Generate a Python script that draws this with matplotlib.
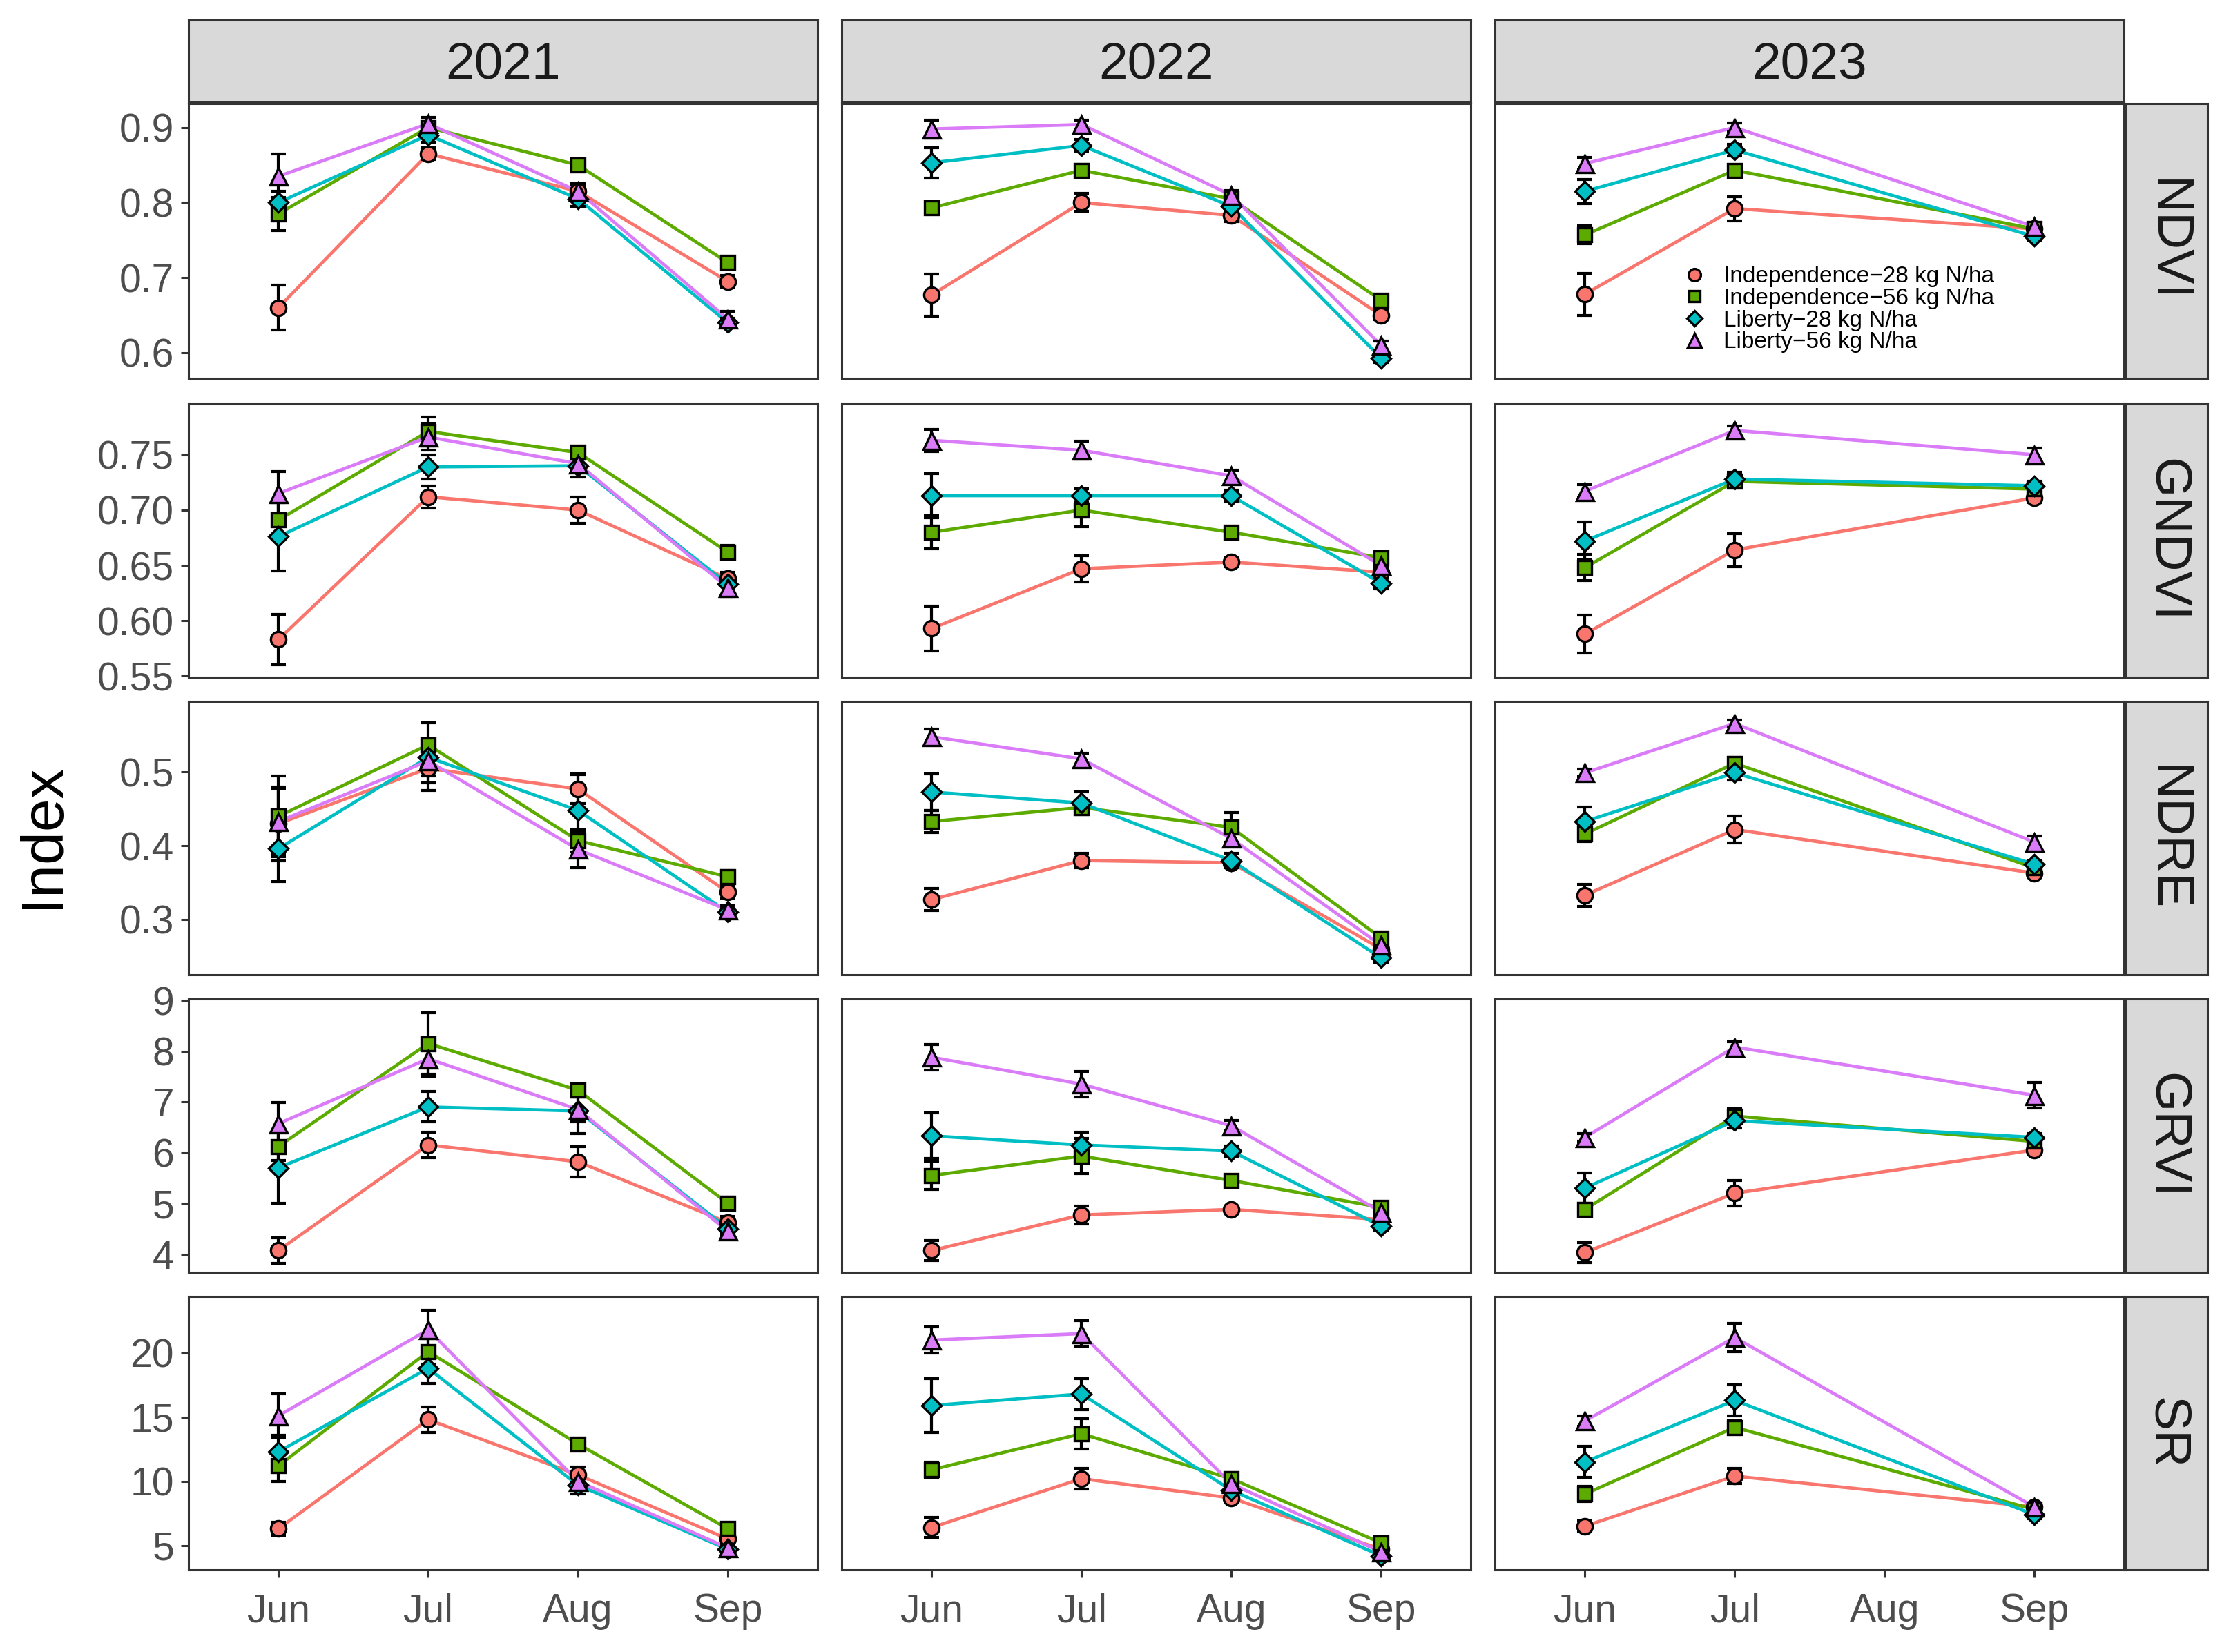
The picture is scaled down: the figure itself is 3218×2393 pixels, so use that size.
import numpy as np
import matplotlib.pyplot as plt

plt.rcParams['font.family'] = ['Liberation Sans', 'DejaVu Sans']

months = ['Jun', 'Jul', 'Aug', 'Sep']
years = ['2021', '2022', '2023']
indices = ['NDVI', 'GNDVI', 'NDRE', 'GRVI', 'SR']
treatments = ['Independence\u221228 kg N/ha', 'Independence\u221256 kg N/ha',
              'Liberty\u221228 kg N/ha', 'Liberty\u221256 kg N/ha']
colors = ['#F8766D', '#5DAB00', '#00BFC4', '#DA7CF8']
markers = ['o', 's', 'D', '^']
nan = np.nan

# means: one row per treatment, columns Jun..Sep (Aug 2023 not measured)
ndvi_2021 = [[0.660, 0.865, 0.815, 0.695], [0.785, 0.900, 0.850, 0.720],
             [0.800, 0.890, 0.805, 0.640], [0.835, 0.905, 0.815, 0.645]]
ndvi_2022 = [[0.677, 0.800, 0.783, 0.650], [0.793, 0.843, 0.805, 0.670],
             [0.853, 0.876, 0.795, 0.593], [0.898, 0.904, 0.810, 0.610]]
ndvi_2023 = [[0.678, 0.792, nan, 0.765], [0.757, 0.843, nan, 0.765],
             [0.815, 0.870, nan, 0.755], [0.852, 0.900, nan, 0.768]]
ndvi_se_2021 = [[0.030, 0.008, 0.008, 0.008], [0.022, 0.008, 0.006, 0.006],
                [0.015, 0.010, 0.010, 0.006], [0.030, 0.008, 0.010, 0.010]]
ndvi_se_2022 = [[0.028, 0.012, 0.008, 0.006], [0.008, 0.008, 0.006, 0.006],
                [0.020, 0.008, 0.006, 0.006], [0.012, 0.006, 0.006, 0.006]]
ndvi_se_2023 = [[0.028, 0.016, nan, 0.005], [0.012, 0.006, nan, 0.005],
                [0.016, 0.008, nan, 0.005], [0.008, 0.006, nan, 0.005]]

gndvi_2021 = [[0.583, 0.712, 0.700, 0.638], [0.691, 0.771, 0.752, 0.662],
              [0.676, 0.739, 0.740, 0.633], [0.715, 0.766, 0.742, 0.630]]
gndvi_2022 = [[0.593, 0.647, 0.653, 0.644], [0.680, 0.700, 0.680, 0.657],
              [0.713, 0.713, 0.713, 0.634], [0.763, 0.754, 0.731, 0.650]]
gndvi_2023 = [[0.588, 0.664, nan, 0.711], [0.648, 0.726, nan, 0.719],
              [0.672, 0.728, nan, 0.722], [0.717, 0.772, nan, 0.750]]
gndvi_se_2021 = [[0.023, 0.010, 0.012, 0.006], [0.018, 0.013, 0.005, 0.006],
                 [0.031, 0.011, 0.010, 0.010], [0.020, 0.012, 0.006, 0.008]]
gndvi_se_2022 = [[0.020, 0.012, 0.004, 0.004], [0.015, 0.015, 0.004, 0.004],
                 [0.020, 0.006, 0.005, 0.005], [0.010, 0.008, 0.005, 0.005]]
gndvi_se_2023 = [[0.017, 0.015, nan, 0.004], [0.012, 0.005, nan, 0.004],
                 [0.017, 0.006, nan, 0.004], [0.006, 0.004, nan, 0.006]]

ndre_2021 = [[0.430, 0.505, 0.477, 0.337], [0.440, 0.537, 0.407, 0.358],
             [0.396, 0.520, 0.448, 0.310], [0.433, 0.515, 0.395, 0.313]]
ndre_2022 = [[0.327, 0.380, 0.377, 0.260], [0.433, 0.452, 0.425, 0.275],
             [0.473, 0.458, 0.380, 0.248], [0.548, 0.518, 0.410, 0.265]]
ndre_2023 = [[0.333, 0.422, nan, 0.363], [0.416, 0.512, nan, 0.370],
             [0.433, 0.499, nan, 0.375], [0.499, 0.566, nan, 0.405]]
ndre_se_2021 = [[0.050, 0.030, 0.020, 0.008], [0.055, 0.030, 0.015, 0.008],
                [0.045, 0.025, 0.050, 0.006], [0.045, 0.030, 0.025, 0.006]]
ndre_se_2022 = [[0.015, 0.010, 0.006, 0.006], [0.015, 0.010, 0.020, 0.006],
                [0.025, 0.015, 0.010, 0.006], [0.010, 0.008, 0.008, 0.006]]
ndre_se_2023 = [[0.015, 0.018, nan, 0.005], [0.010, 0.008, nan, 0.005],
                [0.020, 0.010, nan, 0.005], [0.005, 0.005, nan, 0.008]]

grvi_2021 = [[4.07, 6.15, 5.82, 4.62], [6.12, 8.15, 7.23, 5.00],
             [5.70, 6.90, 6.82, 4.50], [6.57, 7.85, 6.85, 4.45]]
grvi_2022 = [[4.07, 4.77, 4.88, 4.68], [5.55, 5.93, 5.45, 4.92],
             [6.33, 6.15, 6.03, 4.55], [7.88, 7.35, 6.53, 4.83]]
grvi_2023 = [[4.03, 5.20, nan, 6.05], [4.88, 6.72, nan, 6.22],
             [5.30, 6.63, nan, 6.30], [6.30, 8.08, nan, 7.13]]
grvi_se_2021 = [[0.25, 0.25, 0.30, 0.12], [0.28, 0.60, 0.12, 0.12],
                [0.70, 0.30, 0.45, 0.10], [0.42, 0.35, 0.25, 0.10]]
grvi_se_2022 = [[0.20, 0.18, 0.06, 0.08], [0.28, 0.35, 0.10, 0.10],
                [0.45, 0.25, 0.10, 0.08], [0.25, 0.25, 0.10, 0.10]]
grvi_se_2023 = [[0.20, 0.25, nan, 0.08], [0.10, 0.15, nan, 0.08],
                [0.30, 0.15, nan, 0.08], [0.08, 0.10, nan, 0.25]]

sr_2021 = [[6.3, 14.8, 10.5, 5.5], [11.2, 20.1, 12.9, 6.3],
           [12.3, 18.8, 9.7, 4.7], [15.1, 21.8, 10.0, 4.8]]
sr_2022 = [[6.4, 10.2, 8.7, 4.7], [10.9, 13.7, 10.2, 5.2],
           [15.9, 16.8, 9.3, 4.2], [21.0, 21.5, 9.8, 4.5]]
sr_2023 = [[6.5, 10.4, nan, 8.0], [9.0, 14.2, nan, 7.8],
           [11.5, 16.3, nan, 7.4], [14.7, 21.2, nan, 8.0]]
sr_se_2021 = [[0.5, 1.0, 0.6, 0.3], [1.2, 1.0, 0.4, 0.3],
              [1.3, 1.2, 0.7, 0.3], [1.7, 1.5, 0.6, 0.3]]
sr_se_2022 = [[0.8, 0.8, 0.3, 0.3], [0.6, 1.2, 0.5, 0.3],
              [2.1, 1.2, 0.5, 0.3], [1.0, 1.0, 0.4, 0.3]]
sr_se_2023 = [[0.4, 0.6, nan, 0.3], [0.6, 0.5, nan, 0.3],
              [1.2, 1.2, nan, 0.3], [0.4, 1.1, nan, 0.3]]

means = {'NDVI': [ndvi_2021, ndvi_2022, ndvi_2023],
         'GNDVI': [gndvi_2021, gndvi_2022, gndvi_2023],
         'NDRE': [ndre_2021, ndre_2022, ndre_2023],
         'GRVI': [grvi_2021, grvi_2022, grvi_2023],
         'SR': [sr_2021, sr_2022, sr_2023]}
errors = {'NDVI': [ndvi_se_2021, ndvi_se_2022, ndvi_se_2023],
          'GNDVI': [gndvi_se_2021, gndvi_se_2022, gndvi_se_2023],
          'NDRE': [ndre_se_2021, ndre_se_2022, ndre_se_2023],
          'GRVI': [grvi_se_2021, grvi_se_2022, grvi_se_2023],
          'SR': [sr_se_2021, sr_se_2022, sr_se_2023]}

ylims = {'NDVI': (0.566, 0.932), 'GNDVI': (0.549, 0.796), 'NDRE': (0.225, 0.596),
         'GRVI': (3.64, 9.03), 'SR': (3.1, 24.4)}
yticks = {'NDVI': [0.6, 0.7, 0.8, 0.9], 'GNDVI': [0.55, 0.60, 0.65, 0.70, 0.75],
          'NDRE': [0.3, 0.4, 0.5], 'GRVI': [4, 5, 6, 7, 8, 9], 'SR': [5, 10, 15, 20]}
yfmt = {'NDVI': '{:.1f}', 'GNDVI': '{:.2f}', 'NDRE': '{:.1f}', 'GRVI': '{:.0f}', 'SR': '{:.0f}'}

# layout in pixels of a 1568 x 1166 canvas
W, H = 1568.0, 1166.0
cols_px = [(133, 577), (594, 1038), (1055, 1499)]
rows_px = [(73, 267), (285, 478), (495, 688), (705, 898), (915, 1108)]
edge = '#333333'


def rect(x0, x1, y0, y1):
    return [x0 / W, 1 - y1 / H, (x1 - x0) / W, (y1 - y0) / H]


fig = plt.figure(figsize=(16.09, 11.965), dpi=200)
x = np.arange(1, 5)

for r, idx in enumerate(indices):
    for c, yr in enumerate(years):
        ax = fig.add_axes(rect(cols_px[c][0], cols_px[c][1], rows_px[r][0], rows_px[r][1]))
        m_all = np.array(means[idx][c], dtype=float)
        e_all = np.array(errors[idx][c], dtype=float)
        for t in range(4):
            m = m_all[t]
            e = e_all[t]
            ok = ~np.isnan(m)
            ax.plot(x[ok], m[ok], color=colors[t], lw=1.7, zorder=2)
            ax.errorbar(x[ok], m[ok], yerr=e[ok], fmt='none', ecolor='black',
                        elinewidth=1.5, capsize=4, capthick=1.5, zorder=3)
            ax.plot(x[ok], m[ok], linestyle='none', marker=markers[t],
                    markersize={'o': 8, 's': 7.5, 'D': 7, '^': 9}[markers[t]],
                    markerfacecolor=colors[t], markeredgecolor='black',
                    markeredgewidth=1.2, zorder=4, label=treatments[t])
        ax.set_xlim(0.4, 4.6)
        ax.set_ylim(*ylims[idx])
        ax.set_xticks(x)
        ax.set_yticks(yticks[idx])
        for s in ax.spines.values():
            s.set_color(edge)
            s.set_linewidth(1.1)
        ax.tick_params(colors=edge, width=1.1, length=4, labelcolor='#4D4D4D',
                       labelsize=20.5)
        ax.tick_params(axis='x', pad=8)
        if r == len(indices) - 1:
            ax.set_xticklabels(months)
        else:
            ax.tick_params(axis='x', length=0, labelbottom=False)
        if c == 0:
            ax.set_yticklabels([yfmt[idx].format(v) for v in yticks[idx]])
        else:
            ax.tick_params(axis='y', length=0, labelleft=False)
        if r == 0 and c == 2:
            ax.legend(loc='upper left', bbox_to_anchor=(0.29, 0.425), fontsize=12,
                      frameon=True, facecolor='white', edgecolor='white', framealpha=1,
                      labelspacing=0.02, handletextpad=0.7, borderpad=0.2,
                      handlelength=1.1, borderaxespad=0, markerscale=0.8)

# strips
for c, yr in enumerate(years):
    sax = fig.add_axes(rect(cols_px[c][0], cols_px[c][1], 14, 72))
    sax.set_facecolor('#D9D9D9')
    sax.set_xticks([])
    sax.set_yticks([])
    for s in sax.spines.values():
        s.set_color(edge)
        s.set_linewidth(1.1)
    sax.text(0.5, 0.44, yr, ha='center', va='center', fontsize=27, color='#1A1A1A',
             transform=sax.transAxes)

for r, idx in enumerate(indices):
    sax = fig.add_axes(rect(1500, 1558, rows_px[r][0], rows_px[r][1]))
    sax.set_facecolor('#D9D9D9')
    sax.set_xticks([])
    sax.set_yticks([])
    for s in sax.spines.values():
        s.set_color(edge)
        s.set_linewidth(1.1)
    sax.text(0.5, 0.5, idx, ha='center', va='center', rotation=-90, fontsize=27,
             color='#1A1A1A', transform=sax.transAxes)

fig.text(30 / W, 1 - 590 / H, 'Index', rotation=90, ha='center', va='center',
         fontsize=31, color='black')

fig.savefig('out.png', dpi=200, facecolor='white')
